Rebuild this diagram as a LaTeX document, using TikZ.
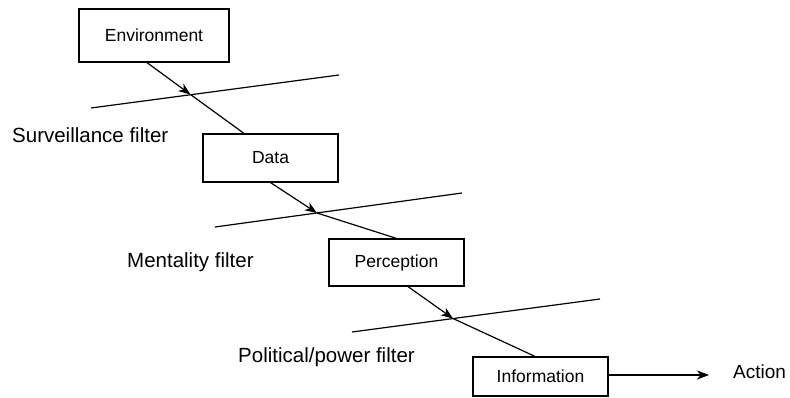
\documentclass[tikz,border=0pt]{standalone}
\usepackage{fontspec}
\setmainfont{Liberation Sans}
\usetikzlibrary{arrows.meta}
\begin{document}
\begin{tikzpicture}[x=1pt,y=-1pt,
  stagebox/.style={draw,line width=1.2pt,rectangle,inner sep=0pt,font=\fontsize{17.5}{20}\selectfont},
  lbl/.style={anchor=base west,inner sep=0pt,font=\fontsize{20.5}{24}\selectfont},
  filterline/.style={line width=1.2pt},
  flow/.style={line width=1.2pt},
  tip/.style={line width=1.2pt,-{Stealth[length=12pt,width=9pt,inset=3.5pt]}}]
\useasboundingbox (0,0) rectangle (790,398);
% boxes
\node[stagebox,minimum width=150pt,minimum height=53pt] (env) at (154,35.5) {Environment};
\node[stagebox,minimum width=135pt,minimum height=48pt] (data) at (270.5,158) {Data};
\node[stagebox,minimum width=135pt,minimum height=47pt] (perc) at (396.5,262.5) {Perception};
\node[stagebox,minimum width=135pt,minimum height=39pt] (info) at (540.5,376.5) {Information};
% filter lines
\coordinate (f1a) at (91,108); \coordinate (f1b) at (339,75);
\coordinate (f2a) at (215,227); \coordinate (f2b) at (462,193);
\coordinate (f3a) at (352,332); \coordinate (f3b) at (600,299);
\draw[filterline] (f1a) -- (f1b);
\draw[filterline] (f2a) -- (f2b);
\draw[filterline] (f3a) -- (f3b);
% crossings
\coordinate (x1) at (190.5,94.5);
\coordinate (x2) at (317,213);
\coordinate (x3) at (453,318.5);
% flows
\draw[tip] ([xshift=-7pt]env.south) -- (x1);
\draw[flow] (x1) -- ([xshift=-26.5pt]data.north);
\draw[tip] (data.south) -- (x2);
\draw[flow] (x2) -- (perc.north);
\draw[tip] ([xshift=11.5pt]perc.south) -- (x3);
\draw[flow] (x3) -- ([xshift=-5.5pt]info.north);
% action
\node[anchor=base west,inner sep=0pt,font=\fontsize{19}{22}\selectfont] (action) at (733,378) {Action};
\coordinate (actend) at (709,375);
\draw[tip] (info.east |- actend) -- (actend);
% labels
\node[lbl] (l1) at (12,143) {Surveillance filter};
\node[lbl] (l2) at (127,268) {Mentality filter};
\node[lbl] (l3) at (238,362) {Political/power filter};
\end{tikzpicture}
\end{document}
